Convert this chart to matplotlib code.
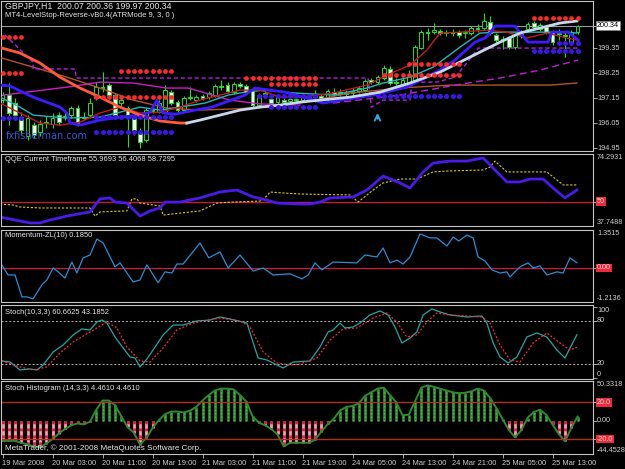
import numpy as np
import matplotlib.pyplot as plt
import matplotlib.transforms as mtransforms

W, H = 625, 469
FONT = 'Liberation Sans'
FS = 5.4
RFS = 5.2

# ---------------- main chart: GBPJPY,H1 candles (bar index 0..92)
opens = [197.06, 197.28, 196.93, 196.31, 195.48, 195.96, 195.65, 196.05, 196.01, 196.40,
         196.36, 196.40, 196.71, 196.27, 196.40, 197.15, 197.59, 197.72, 197.28, 196.93,
         196.71, 196.27, 195.65, 195.30, 196.62, 196.53, 196.53, 197.41, 196.97, 196.62,
         197.19, 197.06, 197.24, 197.19, 197.28, 197.68, 197.72, 197.41, 197.76, 197.68,
         197.46, 196.84, 197.33, 197.11, 196.97, 197.06, 197.02, 197.06, 197.06, 197.15,
         197.19, 197.24, 197.15, 197.41, 197.41, 197.33, 197.37, 197.46, 197.50, 197.94,
         197.85, 198.03, 198.43, 197.85, 197.72, 197.72, 197.94, 199.35, 200.05, 200.05,
         200.10, 200.01, 200.05, 200.05, 200.01, 200.01, 200.23, 200.23, 200.49, 199.92,
         199.75, 199.79, 199.39, 199.92, 200.19, 200.45, 200.19, 200.27, 200.05, 200.01,
         199.88, 199.57, 200.07]
highs = [197.41, 197.81, 197.15, 196.53, 196.40, 196.09, 196.18, 196.36, 196.49, 196.53,
         196.53, 196.80, 196.84, 196.53, 197.15, 197.85, 198.29, 197.81, 197.37, 197.28,
         196.80, 196.40, 195.83, 196.71, 196.80, 197.06, 197.72, 197.50, 197.06, 197.24,
         197.63, 197.28, 197.33, 197.46, 197.76, 197.94, 197.85, 197.85, 197.85, 197.76,
         197.55, 197.37, 197.50, 197.24, 197.28, 197.15, 197.19, 197.24, 197.28, 197.33,
         197.50, 197.33, 197.55, 197.59, 197.55, 197.50, 197.59, 197.68, 197.99, 198.03,
         198.16, 198.60, 198.56, 198.03, 198.03, 198.38, 199.48, 200.14, 200.23, 200.45,
         200.19, 200.14, 200.19, 200.14, 200.14, 200.32, 200.41, 200.89, 200.76, 200.01,
         199.88, 199.88, 200.01, 200.14, 200.49, 200.54, 200.45, 200.36, 200.14, 200.19,
         200.05, 200.14, 200.36]
lows = [196.93, 195.96, 196.18, 195.52, 195.30, 195.39, 195.48, 195.83, 195.83, 195.96,
        196.18, 196.27, 195.92, 196.18, 196.27, 197.06, 197.41, 197.15, 196.27, 196.71,
        194.99, 195.52, 194.95, 195.21, 196.49, 196.49, 196.49, 196.84, 196.53, 196.53,
        197.06, 196.97, 197.06, 197.11, 197.19, 197.50, 197.37, 197.33, 197.59, 197.33,
        196.75, 196.75, 197.19, 196.84, 196.89, 196.89, 196.93, 196.97, 196.97, 197.02,
        196.97, 197.02, 197.06, 197.24, 197.24, 197.19, 197.28, 197.37, 197.41, 197.76,
        197.76, 197.94, 197.72, 197.68, 197.63, 197.63, 197.85, 199.31, 199.70, 199.97,
        199.92, 199.88, 199.88, 199.79, 199.79, 199.92, 200.05, 200.14, 199.92, 199.61,
        199.31, 199.31, 199.31, 199.79, 200.10, 200.19, 200.10, 199.97, 199.48, 199.70,
        198.95, 199.48, 199.97]
closes = [197.28, 196.49, 196.40, 195.74, 196.27, 195.52, 196.01, 196.09, 196.27, 196.09,
          196.31, 196.71, 196.05, 196.31, 196.93, 197.63, 197.63, 197.28, 196.40, 197.06,
          196.27, 195.74, 195.21, 196.62, 196.58, 196.93, 197.50, 196.93, 196.62, 197.15,
          197.15, 197.19, 197.15, 197.37, 197.68, 197.63, 197.46, 197.76, 197.68, 197.41,
          196.84, 197.28, 197.37, 196.93, 197.19, 196.97, 197.11, 197.11, 197.19, 197.19,
          197.24, 197.11, 197.46, 197.33, 197.33, 197.37, 197.46, 197.59, 197.90, 197.85,
          198.07, 198.47, 197.81, 197.81, 197.94, 198.07, 199.39, 200.05, 200.01, 200.14,
          200.01, 200.05, 200.01, 199.92, 200.05, 200.23, 200.19, 200.54, 200.01, 199.70,
          199.70, 199.39, 199.92, 199.97, 200.41, 200.27, 200.36, 200.05, 199.61, 199.97,
          199.92, 200.05, 200.34]
bid = 200.34

# moving averages (bar position, price)
slow_down_x = [-0.1, 2.8, 6.0, 9.2, 12.4, 15.6, 18.8, 22.0, 25.2, 28.4, 29.5]
slow_down_y = [199.35, 199.13, 198.69, 198.07, 197.59, 197.19, 196.75, 196.40, 196.14, 196.05, 196.05]
slow_up_x = [29.5, 31.6, 34.8, 38.0, 41.2, 44.4, 47.6, 50.8, 55.6, 60.4, 65.2, 70.0, 73.2,
             76.4, 79.6, 82.8, 86.0, 89.2, 91.9]
slow_up_y = [196.05, 196.18, 196.40, 196.62, 196.75, 196.84, 196.97, 197.06, 197.19, 197.41,
             197.81, 198.29, 198.73, 199.17, 199.61, 200.01, 200.23, 200.45, 200.54]
brown_x = [-0.1, 4.9, 10.3, 15.6, 20.9, 26.3, 31.6, 36.9, 42.3, 47.6, 55.6, 63.6, 71.6, 79.6, 87.6, 91.9]
brown_y = [198.91, 198.51, 198.07, 197.59, 197.06, 196.71, 196.62, 196.67, 196.75, 196.93,
           197.37, 197.59, 197.72, 197.72, 197.72, 197.81]
blue_x = [-0.4, 1.2, 4.9, 9.2, 10.3, 10.8, 12.4, 15.6, 18.8, 22.0, 23.6, 24.7, 25.7, 27.6,
          30.8, 33.5, 38.8, 40.4, 45.2, 48.1, 51.3, 59.3, 64.7, 70.0, 72.4, 75.6, 77.2, 78.0,
          78.8, 82.0, 83.1, 84.1, 87.3, 87.9, 90.5, 92.1]
blue_y = [197.72, 197.68, 197.19, 196.75, 196.49, 196.05, 195.96, 196.18, 196.31, 196.40,
          196.53, 197.06, 196.49, 196.44, 196.62, 196.75, 197.28, 197.59, 197.41, 197.19,
          196.93, 197.28, 197.63, 198.38, 198.82, 199.61, 199.79, 200.01, 200.32, 200.32,
          199.92, 199.61, 199.61, 200.05, 200.05, 199.70]
cyan_x = [-0.4, 2.8, 4.9, 10.3, 15.6, 18.8, 22.0, 25.2, 28.4, 32.4, 36.1, 38.8, 42.0, 46.8,
          52.9, 58.3, 60.9, 65.2, 68.9, 73.2, 76.4, 79.6, 84.9, 90.3, 91.9]
cyan_y = [197.19, 196.75, 196.40, 196.27, 196.31, 196.53, 196.75, 196.62, 196.75, 196.93,
          197.28, 197.41, 197.50, 197.37, 197.28, 197.59, 197.81, 198.07, 198.51, 199.39,
          200.01, 200.05, 200.05, 200.05, 200.01]
red_x = [-0.4, 2.8, 6.0, 9.2, 12.4, 15.6, 18.8, 22.0, 25.2, 28.4, 31.6, 34.8, 38.0, 41.2,
         44.4, 47.6, 52.9, 58.3, 61.5, 65.2, 67.9, 70.0, 73.2, 77.5, 80.7, 83.9, 87.1, 90.3, 91.9]
red_y = [196.93, 196.49, 196.05, 195.96, 196.09, 196.49, 196.75, 196.49, 196.53, 196.75,
         197.06, 197.28, 197.50, 197.50, 197.19, 197.19, 197.37, 197.72, 198.16, 198.60,
         199.26, 200.01, 200.05, 200.14, 200.05, 199.79, 200.01, 199.79, 199.70]
magenta_x = [0.1, 10.3, 15.6, 20.9, 26.3, 29.7, 36.4, 41.2, 47.6]
magenta_y = [197.28, 197.63, 197.85, 197.81, 197.59, 197.59, 197.06, 196.89, 196.84]
stop_x = [0.4, 4.9, 4.9, 11.6, 11.8, 58.5, 59.0, 60.9, 65.2, 65.5, 69.5, 72.4, 74.4, 76.1, 92.1]
stop_y = [199.92, 198.73, 198.43, 198.43, 198.03, 198.03, 196.75, 197.06, 197.06, 197.85,
          197.85, 198.07, 198.73, 199.35, 199.35]
trend_x = [52.9, 63.6, 72.4, 79.6, 86.0, 92.1]
trend_y = [196.93, 197.28, 197.72, 198.03, 198.38, 198.82]

# LevelStop-Reverse dots: (first bar, last bar, price)
red_dots = [(0, 3, 199.83), (0, 3, 198.25), (19, 27, 198.34), (15, 27, 197.19),
            (39, 50, 198.03), (43, 50, 197.76), (65, 73, 198.65), (61, 73, 198.16),
            (85, 92, 200.67)]
blue_dots = [(0, 3, 196.27), (15, 27, 196.31), (15, 27, 195.65), (41, 50, 197.24),
             (43, 50, 196.75), (60, 73, 197.24), (85, 92, 199.22), (89, 92, 199.57)]
arrow_bar, arrow_price = 60, 196.12

# ---------------- QQE
qqe_x = [-0.4, 1.2, 2.8, 4.4, 6.0, 7.6, 10.3, 12.9, 14.0, 15.6, 17.2, 18.0, 19.9, 22.0,
         23.6, 25.2, 26.0, 28.4, 31.6, 34.8, 37.5, 40.1, 42.3, 43.9, 47.6, 49.2, 50.8, 52.4,
         56.1, 58.3, 60.9, 63.6, 65.2, 67.3, 68.9, 71.6, 74.3, 76.9, 79.1, 80.7, 82.8, 84.4,
         86.5, 88.1, 90.0, 91.9]
qqe_y = [42.3, 41.3, 40.3, 39.3, 39.3, 40.8, 42.8, 44.3, 44.9, 51.5, 52.0, 49.9, 49.4, 42.8,
         45.4, 46.9, 49.9, 49.9, 52.0, 55.0, 56.0, 52.5, 50.9, 49.4, 48.9, 48.9, 49.9, 52.0,
         52.5, 56.0, 63.1, 59.6, 57.0, 65.2, 69.7, 70.7, 70.7, 72.3, 65.2, 60.1, 60.1, 61.6,
         61.6, 57.0, 52.0, 56.0]
qqe_trail_x = [-0.4, 1.7, 2.8, 6.0, 14.0, 14.8, 15.6, 19.9, 20.7, 21.5, 22.0, 25.2, 25.7,
               28.4, 31.6, 34.3, 36.9, 41.2, 42.3, 42.8, 44.9, 47.6, 55.6, 56.9, 59.3, 60.9,
               63.6, 66.3, 68.9, 71.6, 76.9, 78.0, 78.8, 80.7, 87.1, 89.7, 91.9]
qqe_trail_y = [48.9, 48.4, 47.4, 46.9, 46.9, 42.8, 44.9, 45.4, 51.5, 51.5, 49.4, 47.9, 43.3,
               44.3, 45.4, 49.4, 49.9, 50.4, 53.0, 55.0, 54.5, 54.0, 53.5, 49.9, 56.0, 59.6,
               61.6, 61.6, 65.2, 65.7, 66.2, 67.7, 70.7, 65.2, 65.2, 58.6, 58.6]

# ---------------- Momentum-ZL(10)
mom_x = [-0.4, 0.9, 2.0, 3.1, 3.9, 4.9, 5.5, 6.3, 7.1, 8.1, 8.9, 10.0, 11.1, 11.9, 12.9,
         14.0, 15.1, 16.1, 18.0, 18.8, 20.9, 22.0, 23.1, 24.9, 26.0, 27.1, 27.9, 28.9, 31.6,
         33.0, 34.8, 36.1, 38.0, 40.1, 41.7, 43.3, 46.0, 47.9, 48.9, 50.0, 51.1, 52.9, 56.7,
         58.0, 59.9, 60.9, 62.0, 63.1, 64.1, 65.2, 66.8, 68.4, 69.5, 71.1, 72.1, 73.0, 74.3,
         75.3, 76.1, 77.2, 78.3, 79.6, 80.7, 81.2, 82.8, 84.1, 84.9, 86.0, 87.1, 88.7, 89.7,
         90.8, 91.9]
mom_y = [0.21, -0.25, -0.25, -1.03, -1.03, -1.10, -0.89, -0.60, -0.43, 0.00, -0.14, -0.36,
         0.21, -0.18, 0.36, 0.46, 1.03, 0.89, 0.04, 0.18, -0.50, -0.43, 0.11, -0.53, -0.14,
         -0.18, 0.14, 0.14, 0.89, 0.36, 0.57, 0.00, 0.46, -0.11, 0.00, -0.25, -0.21, -0.39,
         -0.25, 0.18, -0.07, 0.21, 0.18, 0.46, 0.39, 0.71, 0.18, 0.28, 0.14, 0.39, 1.21, 1.07,
         1.07, 0.78, 1.10, 0.96, 1.17, 1.07, 0.39, 0.25, -0.07, -0.18, -0.14, -0.32, 0.04,
         0.18, 0.00, 0.07, -0.25, -0.14, -0.18, 0.36, 0.185]

# ---------------- Stoch(10,3,3)
stoch_x = [-0.1, 1.2, 2.8, 4.4, 5.5, 6.5, 8.1, 9.7, 11.3, 12.7, 14.0, 15.1, 15.9, 16.7,
           18.0, 19.3, 20.4, 21.2, 22.0, 23.1, 24.1, 25.7, 27.3, 28.9, 31.1, 33.2, 34.8,
           36.4, 39.1, 40.9, 42.3, 44.9, 46.5, 49.2, 50.8, 52.1, 52.9, 54.0, 54.8, 56.1,
           57.2, 58.8, 60.4, 61.7, 62.8, 63.9, 65.2, 66.3, 67.3, 68.7, 70.0, 71.6, 74.3,
           76.7, 77.5, 78.5, 79.6, 80.9, 82.3, 83.9, 85.5, 87.1, 88.7, 90.0, 91.9]
stoch_y = [24.1, 22.7, 11.6, 13.0, 11.6, 18.5, 36.7, 46.4, 60.4, 68.8, 67.4, 78.5, 81.3,
           77.1, 57.6, 42.3, 29.7, 28.3, 15.8, 26.9, 39.5, 60.4, 74.3, 74.3, 79.9, 81.3,
           85.5, 82.7, 77.1, 28.3, 25.5, 14.4, 22.7, 24.1, 43.7, 64.6, 67.4, 77.1, 70.2,
           71.5, 77.1, 88.3, 93.9, 88.3, 71.5, 49.2, 56.2, 64.6, 88.3, 96.7, 92.5, 88.3,
           85.5, 86.9, 77.1, 49.2, 29.7, 21.3, 29.7, 57.6, 63.2, 57.6, 39.5, 28.3, 60.66]
signal_x = [-0.1, 2.8, 4.9, 7.1, 9.2, 11.3, 14.0, 16.7, 18.3, 19.9, 22.0, 23.6, 25.7, 27.9,
            30.5, 34.8, 38.0, 39.6, 41.7, 43.9, 46.0, 47.6, 50.3, 52.4, 54.5, 56.7, 59.3,
            61.5, 63.1, 64.7, 66.3, 67.9, 69.5, 71.6, 76.7, 78.0, 79.6, 81.2, 82.8, 84.9,
            87.1, 89.2, 90.8, 91.9]
signal_y = [24.1, 15.8, 11.6, 15.8, 35.3, 50.6, 64.6, 78.5, 70.2, 43.7, 24.1, 22.7, 42.3,
            67.4, 77.1, 84.1, 79.9, 71.5, 36.7, 21.3, 18.5, 19.9, 28.3, 53.4, 68.8, 70.2,
            84.1, 91.1, 78.5, 57.6, 60.4, 78.5, 91.1, 88.3, 85.5, 77.1, 46.4, 25.5, 22.7,
            49.2, 63.2, 49.2, 39.5, 43.19]

# ---------------- Stoch Histogram (14,3,3), one value per bar
hist = [-22, -22, -22, -24, -26, -28, -29, -25, -20, -14, -9, -5, -3, -4,
        -1, 12, 22, 22, 17, 5, -7, -13, -26, -19, -8,
        0.5, 7, 10, 10, 9, 11, 15, 22, 28, 33, 35, 35, 34, 28, 21, 5,
        -2, -5, -9, -15, -28, -24, -24,
        -24, -24, -21, -12, -4, 2, 11, 15, 16, 19, 27, 31, 35, 36, 28, 20,
        6, 6.5, 21, 36, 38.5, 37, 35, 33, 31, 30, 30.5, 32, 35, 33, 25, 14,
        2, -10, -18, -10.5, 3, 9.5, 12, 6.5, -4, -14.5, -22.5, -8, 4.461]

time_ticks = [0, 8, 16, 24, 32, 40, 48, 56, 64, 72, 80, 88]
time_labels = ['19 Mar 2008', '20 Mar 03:00', '20 Mar 11:00', '20 Mar 19:00',
               '21 Mar 03:00', '21 Mar 11:00', '21 Mar 19:00', '24 Mar 05:00',
               '24 Mar 13:00', '24 Mar 21:00', '25 Mar 05:00', '25 Mar 13:00']

GRAY = '#c4c4c4'
LIME = '#1ee01e'

plt.rcParams['font.family'] = [FONT, 'DejaVu Sans']
fig = plt.figure(figsize=(W / 100, H / 100), dpi=100, facecolor='black')


def panel(top, bottom):
    ax = fig.add_axes([1 / W, 1 - bottom / H, 592 / W, (bottom - top) / H])
    ax.set_facecolor('black')
    ax.set_xlim(-0.24, 94.48)
    for s in ax.spines.values():
        s.set_color(GRAY)
        s.set_linewidth(0.8)
    ax.set_xticks([])
    ax.yaxis.tick_right()
    ax.tick_params(axis='y', length=3, width=0.6, color=GRAY, labelright=False, labelleft=False)
    return ax


def rlabel(ax, y, s, va='center', axes_y=False, box=None, color='#cfcfcf'):
    tr = mtransforms.blended_transform_factory(ax.transAxes, ax.transAxes if axes_y else ax.transData)
    ax.text(1 + 4 / 592, y, s, transform=tr, ha='left', va=va, fontsize=RFS,
            color=color, bbox=box, clip_on=False)


def title(ax, y, s, size=FS, color='#e6e6e6'):
    ax.text(0.007, y, s, transform=ax.transAxes, ha='left', va='center',
            fontsize=size, color=color)


red_box = dict(boxstyle='square,pad=0.12', fc='#f02a3a', ec='none')

# ---------------- main
ax = panel(1, 151)
ax.set_ylim(194.82, 201.42)
bars = np.arange(len(closes))
o = np.array(opens)
c = np.array(closes)
ax.vlines(bars, lows, highs, color=LIME, lw=0.8, zorder=2)
fill = np.where(c >= o, 'black', 'white')
ax.bar(bars, np.maximum(np.abs(c - o), 0.01), bottom=np.minimum(o, c), width=0.62,
       color=fill, edgecolor=LIME, linewidth=0.7, zorder=2)
ax.axhline(bid, color='#9a9a9a', lw=0.8, zorder=1)

ax.plot(brown_x, brown_y, color='#b4532a', lw=1.0, zorder=3)
ax.plot(magenta_x, magenta_y, color='#c81ec8', lw=1.0, zorder=3)
ax.plot(stop_x, stop_y, color='#b41ee0', lw=1.0, ls=(0, (3, 2)), zorder=3)
ax.plot(trend_x, trend_y, color='#c01ed8', lw=1.0, ls=(0, (5, 3)), zorder=3)
ax.plot(cyan_x, cyan_y, color='#22b8b8', lw=1.0, zorder=3)
ax.plot(red_x, red_y, color='#c81818', lw=1.0, zorder=3)
ax.plot(blue_x, blue_y, color='#3c1cff', lw=2.0, zorder=3)
ax.plot(slow_down_x, slow_down_y, color='#ff5a3c', lw=2.0, zorder=3)
ax.plot(slow_up_x, slow_up_y, color='#c6d8ec', lw=2.0, zorder=3)

for a, b, p in red_dots:
    xs = np.arange(a, b + 1)
    ax.plot(xs, np.full(len(xs), p), 'o', ms=3.4, color='#ff2a2a', mec='none', zorder=4)
for a, b, p in blue_dots:
    xs = np.arange(a, b + 1)
    ax.plot(xs, np.full(len(xs), p), 'o', ms=3.6, color='#3a18e8', mec='none', zorder=4)

ax.annotate('', xy=(arrow_bar, arrow_price + 0.5), xytext=(arrow_bar, arrow_price),
            arrowprops=dict(arrowstyle='->', color='#3aa2dc', lw=1.4), zorder=5)

title(ax, 0.965, 'GBPJPY,H1  200.07 200.36 199.97 200.34', size=6.3)
title(ax, 0.905, 'MT4-LevelStop-Reverse-vB0.4(ATRMode 9, 3, 0 )', size=5.5)
ax.text(0.008, 0.10, 'fxfisherman.com', transform=ax.transAxes, ha='left', va='center',
        fontsize=7, color='#3a56d8', family='DejaVu Sans')
main_ticks = [199.35, 198.25, 197.15, 196.05, 194.95]
ax.set_yticks(main_ticks + [bid])
for v in main_ticks:
    rlabel(ax, v, f'{v:.2f}')
rlabel(ax, bid, f'{bid:.2f}', color='black',
       box=dict(boxstyle='square,pad=0.12', fc='white', ec='#808080', lw=0.5))

# ---------------- QQE
ax = panel(154, 226)
ax.set_ylim(37.7488, 74.2931)
ax.axhline(50, color='#d2143c', lw=0.9)
ax.plot(qqe_trail_x, qqe_trail_y, color='#d8c81e', lw=0.8, ls=(0, (2, 1.5)))
ax.plot(qqe_x, qqe_y, color='#4a1ae8', lw=2.0)
title(ax, 0.918, 'QQE Current Timeframe 55.9693 56.4068 58.7295')
ax.set_yticks([50])
rlabel(ax, 1.0, '74.2931', va='top', axes_y=True)
rlabel(ax, 50, '50', color='#ffd6d6', box=red_box)
rlabel(ax, 0.0, '37.7488', va='bottom', axes_y=True)

# ---------------- Momentum
ax = panel(230, 302)
ax.set_ylim(-1.2136, 1.3515)
ax.axhline(0, color='#d2143c', lw=0.9)
ax.plot(mom_x, mom_y, color='#2a8ed4', lw=0.9)
title(ax, 0.917, 'Momentum-ZL(10) 0.1850')
ax.set_yticks([0])
rlabel(ax, 1.0, '1.3515', va='top', axes_y=True)
rlabel(ax, 0, '0.00', color='#ffd6d6', box=red_box)
rlabel(ax, 0.0, '-1.2136', va='bottom', axes_y=True)

# ---------------- Stoch
ax = panel(305, 379)
ax.set_ylim(-1, 102.2)
for lv in (20, 80):
    ax.axhline(lv, color='#b0b0b0', lw=0.7, ls=(0, (2, 2)))
ax.plot(stoch_x, stoch_y, color='#22a8a4', lw=0.9)
ax.plot(signal_x, signal_y, color='#ff2a44', lw=0.9, ls=(0, (1.5, 1.5)))
title(ax, 0.905, 'Stoch(10,3,3) 60.6625 43.1852')
ax.set_yticks([100, 80, 20, 0])
rlabel(ax, 100, '100', va='top')
rlabel(ax, 80, '80')
rlabel(ax, 20, '20')
rlabel(ax, 0, '0', va='bottom')

# ---------------- Stoch Histogram
ax = panel(381, 454)
ax.set_ylim(-36.3, 43.3)
hv = np.array(hist)
hb = np.arange(len(hv))
pos = hv >= 0
ax.vlines(hb[pos], 0, hv[pos], color='#2f8f2f', lw=2.0)
ax.vlines(hb[pos], 0, hv[pos], color='#56b856', lw=1.0, ls=(0, (1, 1.5)))
ax.vlines(hb[~pos], 0, hv[~pos], color='#ff9cb0', lw=2.0)
ax.vlines(hb[~pos], 0, hv[~pos], color='#e8143c', lw=2.0, ls=(0, (1, 1.5)))
ax.plot(hb, hv, color='#2c8c2c', lw=1.4)
for lv in (20, -20):
    ax.axhline(lv, color='#b0301a', lw=1.0)
title(ax, 0.904, 'Stoch Histogram (14,3,3) 4.4610 4.4610')
title(ax, 0.082, 'MetaTrader, \u00a9 2001-2008 MetaQuotes Software Corp.', size=5.9)
ax.set_yticks([20, 0, -20])
rlabel(ax, 1.0, '50.3318', va='top', axes_y=True)
rlabel(ax, 20, '20.0', color='#ffd6d6', box=red_box)
rlabel(ax, 0, '0.00')
rlabel(ax, -20, '-20.0', color='#ffd6d6', box=red_box)
rlabel(ax, 0.0, '-44.4528', va='bottom', axes_y=True)

ax.set_xticks(time_ticks)
ax.set_xticklabels(time_labels)
ax.tick_params(axis='x', length=3, width=0.6, color=GRAY, labelcolor='#cfcfcf',
               labelsize=FS, pad=1)
for lab in ax.get_xticklabels():
    lab.set_ha('left')

fig.savefig('out.png', dpi=100, facecolor='black')
